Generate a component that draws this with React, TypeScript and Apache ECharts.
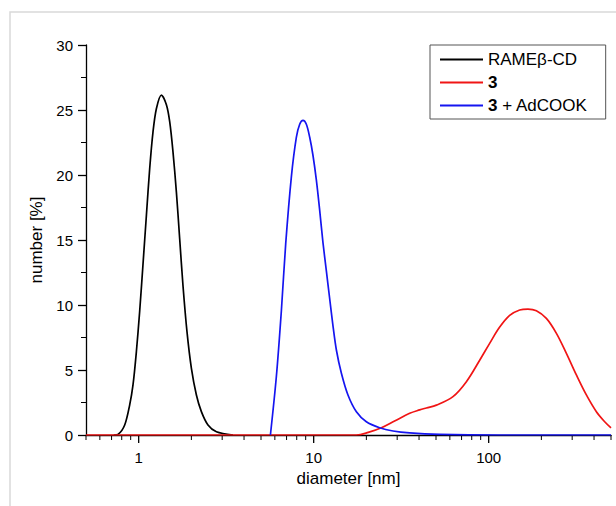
import React, { useEffect, useRef } from "react";
import * as echarts from "echarts";

const seriesNames = ["RAMEβ-CD", "3", "3 + AdCOOK"];

// [diameter nm, number %]
const ramebData: [number, number][] = [
  [0.72, 0], [0.762, 0.05], [0.832, 0.77], [0.888, 2.3], [0.928, 3.85],
  [0.97, 6.4], [1.013, 9.5], [1.058, 13.1], [1.107, 16.9], [1.156, 20.5],
  [1.207, 23.3], [1.262, 25.1], [1.348, 26.15], [1.44, 25.4], [1.504, 24.1],
  [1.57, 21.8], [1.642, 18.7], [1.715, 15.1], [1.791, 11.5], [1.888, 7.95],
  [2.001, 5.13], [2.137, 3.08], [2.282, 1.8], [2.489, 0.77], [2.78, 0.25],
  [3.458, 0],
];

const compound3Data: [number, number][] = [
  [0.5, 0], [5, 0], [17.5, 0], [20.5, 0.2], [24.37, 0.56], [29.2, 1.1],
  [35.37, 1.67], [40.34, 1.93], [44.06, 2.08], [50.25, 2.3], [62.52, 2.95],
  [74.59, 4.1], [88.84, 5.75], [101.3, 7.05], [115.6, 8.3], [131.8, 9.2],
  [150.4, 9.62], [167.7, 9.69], [187.3, 9.56], [213.6, 8.97], [243.8, 7.82],
  [278, 6.28], [317, 4.62], [361.6, 3.08], [412.5, 1.79], [460.2, 1.02],
  [500, 0.55],
];

const complexData: [number, number][] = [
  [5.66, 0], [6.12, 4.5], [6.54, 9.6], [6.92, 14.7], [7.46, 19.9],
  [7.96, 22.9], [8.32, 23.9], [8.69, 24.2], [9.08, 23.9], [9.49, 22.9],
  [9.91, 21.5], [10.36, 19.6], [10.82, 17.3], [11.3, 14.8], [11.82, 12.6],
  [12.34, 10.5], [12.89, 8.4], [13.48, 6.54], [14.4, 4.75], [15.7, 3.08],
  [17.54, 1.79], [20.0, 1.02], [23.8, 0.56], [28.4, 0.31], [35.4, 0.16],
  [52.5, 0.05], [115.6, 0], [500, 0],
];

const majorTicks = [1, 10, 100];
const minorTicks = [
  0.5, 0.6, 0.7, 0.8, 0.9,
  2, 3, 4, 5, 6, 7, 8, 9,
  20, 30, 40, 50, 60, 70, 80, 90,
  200, 300, 400, 500,
];

const FONT = "'Liberation Sans', Arial, sans-serif";

export default function App() {
  const ref = useRef<HTMLDivElement>(null);
  useEffect(() => {
    if (!ref.current) return;
    const chart = echarts.init(ref.current, null, { renderer: "svg" });
    const tickData = [
      ...majorTicks.map((v) => [v, 8]),
      ...minorTicks.map((v) => [v, 5]),
    ];
    chart.setOption({
      animation: false,
      backgroundColor: "#ffffff",
      textStyle: { fontFamily: FONT },
      graphic: [
        {
          type: "polyline",
          shape: { points: [[10, 506], [10, 12], [616, 12]] },
          style: { stroke: "#d9d9d9", lineWidth: 1.5, fill: "none" },
          silent: true,
        },
      ],
      grid: { left: 86, right: 5, top: 45, bottom: 71 },
      legend: {
        orient: "vertical",
        left: 430,
        top: 45,
        width: 176,
        backgroundColor: "#fff",
        borderColor: "#555",
        borderWidth: 1,
        borderRadius: 0,
        padding: [5, 18, 4, 10],
        itemGap: 4,
        itemWidth: 43,
        itemHeight: 2,
        icon: "rect",
        data: seriesNames,
        formatter: (name: string) =>
          name === "3" ? "{b|3}" : name === "3 + AdCOOK" ? "{b|3} + AdCOOK" : name,
        textStyle: {
          fontSize: 17,
          lineHeight: 19,
          color: "#000",
          fontFamily: FONT,
          rich: {
            b: { fontSize: 17, lineHeight: 19, fontWeight: "bold", color: "#000", fontFamily: FONT },
          },
        },
      },
      xAxis: {
        type: "log",
        logBase: 10,
        min: 0.5,
        max: 500,
        name: "diameter [nm]",
        nameLocation: "middle",
        nameGap: 33,
        nameTextStyle: { fontSize: 17, color: "#000", fontFamily: FONT },
        axisLine: { show: true, onZero: false, lineStyle: { color: "#000", width: 1.3 } },
        axisTick: { show: false },
        splitLine: { show: false },
        minorTick: { show: false },
        axisLabel: {
          fontSize: 15,
          color: "#000",
          margin: 15,
          fontFamily: FONT,
          formatter: (v: number) => {
            for (const m of majorTicks) {
              if (Math.abs(v - m) / m < 1e-6) return String(m);
            }
            return "";
          },
        },
      },
      yAxis: {
        type: "value",
        min: 0,
        max: 30,
        interval: 5,
        name: "number [%]",
        nameLocation: "middle",
        nameGap: 40,
        nameTextStyle: { fontSize: 17, color: "#000", fontFamily: FONT },
        axisLine: { show: true, lineStyle: { color: "#000", width: 1.3 } },
        axisTick: { show: true, length: 8, lineStyle: { color: "#000", width: 1.3 } },
        minorTick: { show: true, splitNumber: 2, length: 5, lineStyle: { color: "#000", width: 1 } },
        splitLine: { show: false },
        axisLabel: { fontSize: 15, color: "#000", margin: 13, fontFamily: FONT },
      },
      series: [
        {
          name: seriesNames[0],
          type: "line",
          data: ramebData,
          symbol: "none",
          smooth: 0.3,
          lineStyle: { color: "#000000", width: 1.7 },
          itemStyle: { color: "#000000" },
          z: 3,
        },
        {
          name: seriesNames[1],
          type: "line",
          data: compound3Data,
          symbol: "none",
          smooth: 0.35,
          lineStyle: { color: "#f01515", width: 1.7 },
          itemStyle: { color: "#f01515" },
          z: 4,
        },
        {
          name: seriesNames[2],
          type: "line",
          data: complexData,
          symbol: "none",
          smooth: 0.3,
          lineStyle: { color: "#1515f0", width: 1.7 },
          itemStyle: { color: "#1515f0" },
          z: 5,
        },
        {
          type: "custom",
          silent: true,
          clip: false,
          z: 1,
          data: tickData,
          renderItem: (params: any, api: any) => {
            const p = api.coord([api.value(0), 0]);
            return {
              type: "line",
              shape: { x1: p[0], y1: p[1], x2: p[0], y2: p[1] + api.value(1) },
              style: { stroke: "#000", lineWidth: api.value(1) > 6 ? 1.3 : 1 },
            };
          },
        },
      ],
    });
    return () => chart.dispose();
  }, []);
  return (
    <div
      ref={ref}
      style={{ position: "fixed", left: 0, top: 0, width: 616, height: 506 }}
    />
  );
}
